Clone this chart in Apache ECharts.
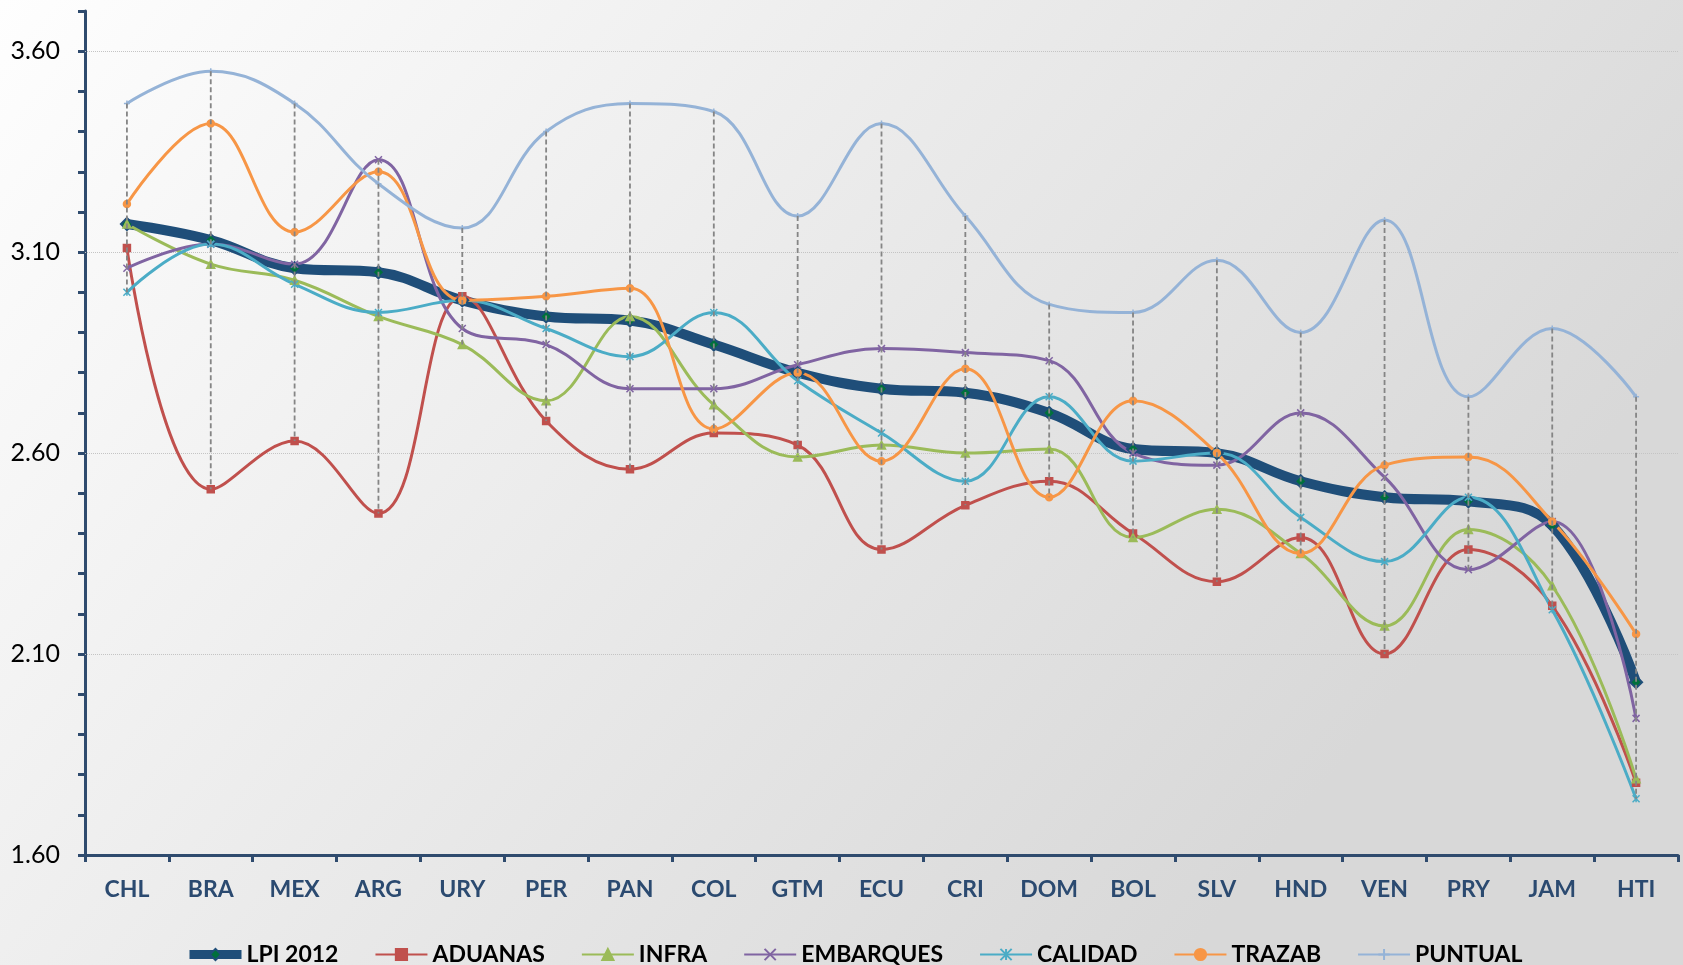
<!DOCTYPE html>
<html>
<head>
<meta charset="utf-8">
<title>LPI 2012</title>
<script src="https://cdn.jsdelivr.net/npm/echarts@6/dist/echarts.min.js"></script>
<style>
  html, body { margin: 0; padding: 0; }
  #main { width: 1683px; height: 965px; }
</style>
</head>
<body>
<div id="main"></div>
<script>
var categories = ['CHL', 'BRA', 'MEX', 'ARG', 'URY', 'PER', 'PAN', 'COL', 'GTM', 'ECU',
  'CRI', 'DOM', 'BOL', 'SLV', 'HND', 'VEN', 'PRY', 'JAM', 'HTI'];

var lpi       = [3.17, 3.13, 3.06, 3.05, 2.98, 2.94, 2.93, 2.87, 2.80, 2.76, 2.75, 2.70, 2.61, 2.60, 2.53, 2.49, 2.48, 2.42, 2.03];
var aduanas   = [3.11, 2.51, 2.63, 2.45, 2.99, 2.68, 2.56, 2.65, 2.62, 2.36, 2.47, 2.53, 2.40, 2.28, 2.39, 2.10, 2.36, 2.22, 1.78];
var infra     = [3.17, 3.07, 3.03, 2.94, 2.87, 2.73, 2.94, 2.72, 2.59, 2.62, 2.60, 2.61, 2.39, 2.46, 2.35, 2.17, 2.41, 2.27, 1.79];
var embarques = [3.06, 3.12, 3.07, 3.33, 2.91, 2.87, 2.76, 2.76, 2.82, 2.86, 2.85, 2.83, 2.60, 2.57, 2.70, 2.54, 2.31, 2.43, 1.94];
var calidad   = [3.00, 3.12, 3.02, 2.95, 2.98, 2.91, 2.84, 2.95, 2.78, 2.65, 2.53, 2.74, 2.58, 2.60, 2.44, 2.33, 2.49, 2.21, 1.74];
var trazab    = [3.22, 3.42, 3.15, 3.30, 2.98, 2.99, 3.01, 2.66, 2.80, 2.58, 2.81, 2.49, 2.73, 2.60, 2.35, 2.57, 2.59, 2.43, 2.15];
var puntual   = [3.47, 3.55, 3.47, 3.27, 3.16, 3.40, 3.47, 3.45, 3.19, 3.42, 3.19, 2.97, 2.95, 3.08, 2.90, 3.18, 2.74, 2.91, 2.74];

var yTickLabels = [1.60, 2.10, 2.60, 3.10, 3.60];

var xMark = 'path://M0,0L10,10M10,0L0,10';
var starMark = 'path://M0,0L10,10M10,0L0,10M5,0L5,10';
var plusMark = 'path://M5,0L5,10M0,5L10,5';

var font = 'Lato, "Open Sans", sans-serif';

function lineSeries(name, data, color, symbol, size, width) {
  return {
    name: name,
    type: 'line',
    data: data,
    smooth: 0.4,
    symbol: symbol,
    symbolSize: size,
    showSymbol: true,
    z: 2,
    lineStyle: { color: color, width: width || 3 },
    itemStyle: { color: color, borderColor: color, borderWidth: 1.5 }
  };
}

// high-low lines: max and min of every series per country
var allSeries = [lpi, aduanas, infra, embarques, calidad, trazab, puntual];
var highLow = categories.map(function (c, i) {
  var vals = allSeries.map(function (s) { return s[i]; });
  return [i, Math.max.apply(null, vals), Math.min.apply(null, vals)];
});

var myChart = echarts.init(document.getElementById('main'));

var lpiSeries = lineSeries('LPI 2012', lpi, '#1F4E79', 'diamond', 12, 10);
lpiSeries.itemStyle = { color: '#00703C', borderColor: '#1F4E79', borderWidth: 2 };
lpiSeries.markLine = {
  silent: true,
  symbol: 'none',
  z: 1,
  label: { show: false },
  lineStyle: { color: '#c4c4c4', type: 'dotted', width: 1 },
  data: yTickLabels.slice(1).map(function (v) { return { yAxis: v }; })
};

myChart.setOption({
  backgroundColor: {
    type: 'linear', x: 0, y: 0, x2: 0.7, y2: 1,
    colorStops: [{ offset: 0, color: '#fefefe' }, { offset: 1, color: '#d8d8d8' }]
  },
  animation: false,
  textStyle: { fontFamily: font },
  grid: { left: 85, right: 5, top: 11, bottom: 110 },
  legend: {
    top: 938,
    left: 180,
    itemWidth: 52,
    itemHeight: 14,
    itemGap: 36,
    textStyle: { fontSize: 23, fontWeight: 'bold', color: '#000', fontFamily: font },
    data: [
      { name: 'LPI 2012', lineStyle: { width: 9 } },
      'ADUANAS', 'INFRA', 'EMBARQUES', 'CALIDAD', 'TRAZAB', 'PUNTUAL'
    ]
  },
  xAxis: {
    type: 'category',
    data: categories,
    boundaryGap: true,
    axisLine: { lineStyle: { color: '#2F4B6E', width: 3 } },
    axisTick: { show: true, length: 7, lineStyle: { color: '#2F4B6E', width: 3 } },
    axisLabel: { fontSize: 23, fontWeight: 'bold', color: '#2B4A70', margin: 23 },
    splitLine: { show: false }
  },
  yAxis: {
    type: 'value',
    min: 1.6,
    max: 3.7,
    interval: 0.1,
    axisLine: { show: true, lineStyle: { color: '#2F4B6E', width: 3 } },
    axisTick: { show: true, length: 7, lineStyle: { color: '#2F4B6E', width: 3 } },
    axisLabel: {
      fontSize: 25, color: '#000', margin: 25,
      formatter: function (v) {
        var hit = yTickLabels.some(function (t) { return Math.abs(t - v) < 0.001; });
        return hit ? v.toFixed(2) : '';
      }
    },
    splitLine: { show: false }
  },
  series: [
    lpiSeries,
    lineSeries('ADUANAS', aduanas, '#C0504D', 'rect', 7),
    lineSeries('INFRA', infra, '#9BBB59', 'triangle', 8),
    lineSeries('EMBARQUES', embarques, '#8064A2', xMark, 7),
    lineSeries('CALIDAD', calidad, '#4BACC6', starMark, 7),
    lineSeries('TRAZAB', trazab, '#F79646', 'circle', 7),
    lineSeries('PUNTUAL', puntual, '#95B3D7', plusMark, 6),
    {
      name: 'highlow',
      type: 'custom',
      data: highLow,
      z: 10,
      silent: true,
      encode: { x: 0, y: [1, 2] },
      renderItem: function (params, api) {
        var top = api.coord([api.value(0), api.value(1)]);
        var bot = api.coord([api.value(0), api.value(2)]);
        return {
          type: 'line',
          shape: { x1: top[0], y1: top[1], x2: bot[0], y2: bot[1] },
          style: { stroke: '#858585', lineWidth: 1.8, lineDash: [5, 3] }
        };
      }
    }
  ]
});
</script>
</body>
</html>
